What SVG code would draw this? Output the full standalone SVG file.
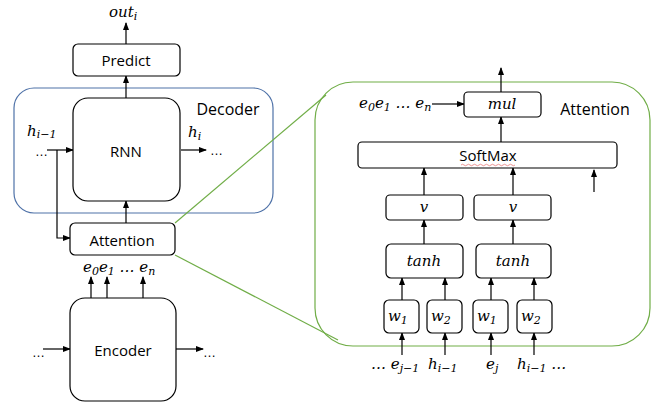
<svg xmlns="http://www.w3.org/2000/svg" width="669" height="405" viewBox="0 0 669 405">
<style>
.box{fill:#fff;stroke:#000;stroke-width:1.2}
.lbl{font-family:"Open Sans","Liberation Sans",sans-serif;font-size:15px;fill:#000;text-anchor:middle}
.m{font-family:"DejaVu Serif","Liberation Serif",serif;font-style:italic;font-size:15px;fill:#000}
.mc{font-family:"DejaVu Serif","Liberation Serif",serif;font-style:italic;font-size:15px;fill:#000;text-anchor:middle}
.sub{font-size:11px}
.dots{font-family:"Liberation Sans",sans-serif;font-size:13px;fill:#000}
.ar{stroke:#000;stroke-width:1.2;fill:none;marker-end:url(#ah)}
.g{stroke:#70AD47;stroke-width:1.2;fill:none}
</style>
<defs>
<marker id="ah" markerUnits="userSpaceOnUse" markerWidth="8" markerHeight="6" refX="7" refY="3" orient="auto">
<path d="M0,0 L8,3 L0,6 z" fill="#000"/>
</marker>
</defs>
<rect width="669" height="405" fill="#fff"/>

<g id="decoder"><rect x="14" y="88" width="259" height="125" rx="20" fill="none" stroke="#4f72a8" stroke-width="1.2"/>
<text class="lbl" x="228" y="115" style="font-size:16px">Decoder</text></g>

<g id="attention-detail"><rect x="315" y="82" width="335" height="264" rx="38" class="g"/>
<text class="lbl" x="595" y="115" style="font-size:16px">Attention</text></g>

<g id="connectors">
<path class="ar" d="M126,44 V23"/>
<path class="ar" d="M126,98 V76"/>
<path class="ar" d="M47,150 H73"/>
<path class="ar" d="M57,150 V238 H70"/>
<path class="ar" d="M181,150 H206"/>
<path class="ar" d="M126,223 V201"/>
<path class="ar" d="M91,298 V277"/>
<path class="ar" d="M107,298 V277"/>
<path class="ar" d="M143,298 V277"/>
<path class="ar" d="M43,349 H70"/>
<path class="ar" d="M176,349 H203"/>
<path class="g" d="M175,223 L326,95"/>
<path class="g" d="M175,255 L338,340"/>
<path class="ar" d="M501,92 V68"/>
<path class="ar" d="M432,104 H464"/>
<path class="ar" d="M501,142 V117"/>
<path class="ar" d="M424,195 V168"/>
<path class="ar" d="M513,195 V168"/>
<path class="ar" d="M594,192 V170"/>
<path class="ar" d="M424,244 V220"/>
<path class="ar" d="M513,244 V220"/>
<path class="ar" d="M402,300 V278"/>
<path class="ar" d="M445,300 V278"/>
<path class="ar" d="M491,300 V278"/>
<path class="ar" d="M534,300 V278"/>
<path class="ar" d="M402,355 V333"/>
<path class="ar" d="M445,355 V333"/>
<path class="ar" d="M491,355 V333"/>
<path class="ar" d="M534,355 V333"/>
</g>

<g id="predict"><rect class="box" x="73" y="44" width="107" height="32" rx="5"/>
<text class="lbl" x="126" y="66">Predict</text></g>

<g id="rnn"><rect class="box" x="73" y="98" width="107" height="103" rx="15"/>
<text class="lbl" x="126" y="157">RNN</text></g>

<g id="attention"><rect class="box" x="70" y="223" width="105" height="32" rx="5"/>
<text class="lbl" x="122" y="246">Attention</text></g>

<g id="encoder"><rect class="box" x="70" y="298" width="106" height="103" rx="15"/>
<text class="lbl" x="123" y="356">Encoder</text></g>

<g id="mul"><rect class="box" x="464" y="92" width="77" height="25" rx="4"/>
<text class="mc" x="502" y="109">mul</text></g>

<g id="softmax"><rect class="box" x="358" y="142" width="259" height="26" rx="4"/>
<text class="lbl" x="488" y="161">SoftMax</text>
<path d="M461,165 q1.5,-1.5 3,0 t3,0 t3,0 t3,0 t3,0 t3,0 t3,0 t3,0 t3,0 t3,0 t3,0 t3,0 t3,0 t3,0 t3,0 t3,0 t3,0 t3,0" fill="none" stroke="#e05050" stroke-width="0.6"/></g>

<g id="v1"><rect class="box" x="386" y="195" width="77" height="25" rx="4"/>
<text class="mc" x="424" y="212">v</text></g>
<g id="v2"><rect class="box" x="474" y="195" width="77" height="25" rx="4"/>
<text class="mc" x="513" y="212">v</text></g>

<g id="tanh1"><rect class="box" x="386" y="244" width="77" height="34" rx="5"/>
<text class="mc" x="424" y="266">tanh</text></g>
<g id="tanh2"><rect class="box" x="476" y="244" width="75" height="34" rx="5"/>
<text class="mc" x="513" y="266">tanh</text></g>

<g id="w1a"><rect class="box" x="384" y="300" width="35" height="33" rx="5"/>
<text class="m" x="388" y="321">w<tspan class="sub" dy="3">1</tspan></text></g>
<g id="w2a"><rect class="box" x="427" y="300" width="35" height="33" rx="5"/>
<text class="m" x="431" y="321">w<tspan class="sub" dy="3">2</tspan></text></g>
<g id="w1b"><rect class="box" x="473" y="300" width="35" height="33" rx="5"/>
<text class="m" x="477" y="321">w<tspan class="sub" dy="3">1</tspan></text></g>
<g id="w2b"><rect class="box" x="517" y="300" width="35" height="33" rx="5"/>
<text class="m" x="521" y="321">w<tspan class="sub" dy="3">2</tspan></text></g>

<g id="labels">
<text class="m" x="109" y="17">out<tspan class="sub" dy="3">i</tspan></text>
<text class="m" x="27" y="136">h<tspan class="sub" dy="2">i−1</tspan></text>
<text class="dots" x="35" y="156">…</text>
<text class="m" x="188" y="137">h<tspan class="sub" dy="3">i</tspan></text>
<text class="dots" x="210" y="155">…</text>
<text class="m" x="83" y="272">e<tspan class="sub" dy="3">0</tspan><tspan dy="-3">e</tspan><tspan class="sub" dy="3">1</tspan><tspan dy="-3"> … e</tspan><tspan class="sub" dy="3">n</tspan></text>
<text class="dots" x="32" y="357">…</text>
<text class="dots" x="203" y="357">…</text>
<text class="m" x="359" y="108">e<tspan class="sub" dy="3">0</tspan><tspan dy="-3">e</tspan><tspan class="sub" dy="3">1</tspan><tspan dy="-3"> … e</tspan><tspan class="sub" dy="3">n</tspan></text>
<text class="m" x="371" y="369">… e<tspan class="sub" dy="3">j−1</tspan></text>
<text class="m" x="428" y="369">h<tspan class="sub" dy="3">i−1</tspan></text>
<text class="m" x="486" y="369">e<tspan class="sub" dy="3">j</tspan></text>
<text class="m" x="517" y="369">h<tspan class="sub" dy="3">i−1</tspan><tspan dy="-3"> …</tspan></text>
</g>
</svg>
